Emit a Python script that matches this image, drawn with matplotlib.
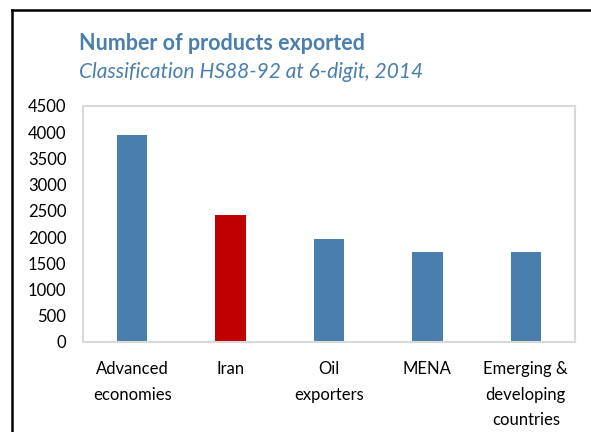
import numpy as np
import matplotlib.pyplot as plt
from matplotlib.lines import Line2D

#%% data
categories = ["Advanced\neconomies", "Iran", "Oil\nexporters", "MENA",
              "Emerging &\ndeveloping\ncountries"]
products   = [3950, 2420, 1960, 1720, 1720]
yticks     = [0, 500, 1000, 1500, 2000, 2500, 3000, 3500, 4000, 4500]

blue  = "#4A7EAD"
red   = "#C00000"
colors = [blue, red, blue, blue, blue]

#%% plot
plt.rcParams['font.family'] = ['Lato', 'DejaVu Sans']

fig = plt.figure(figsize=(5.91, 4.32), dpi=100)
ax  = fig.add_axes([83/591, 1-342/432, (575-83)/591, (342-106)/432])

x = np.arange(len(categories))
ax.bar(x, products, width=0.31, color=colors, zorder=2)

ax.set_xlim(-0.5, len(categories)-0.5)
ax.set_ylim(0, 4500)
ax.set_yticks(yticks)
ax.set_yticklabels([str(t) for t in yticks], fontsize=12)
ax.set_xticks(x)
ax.set_xticklabels(categories, fontsize=12, va='top')
for lab in ax.get_xticklabels():
    lab.set_linespacing(1.72)
ax.tick_params(length=0, pad=12, axis='y')
ax.tick_params(length=0, pad=14, axis='x')
for s in ax.spines.values():
    s.set_color("#D9D9D9")
    s.set_linewidth(1.5)

fig.text(79/591, 1-43/432, "Number of products exported", color=blue,
         fontsize=15.5, fontweight='bold', va='center', ha='left')
fig.text(79/591, 1-72/432, "Classification HS88-92 at 6-digit, 2014", color=blue,
         fontsize=15, style='italic', va='center', ha='left')

# outer frame (left and top)
fig.add_artist(Line2D([12/591, 12/591], [0, 1-10/432], color='black', lw=1.8))
fig.add_artist(Line2D([12/591, 1], [1-10/432, 1-10/432], color='black', lw=1.8))

fig.savefig("out.png", dpi=100)
